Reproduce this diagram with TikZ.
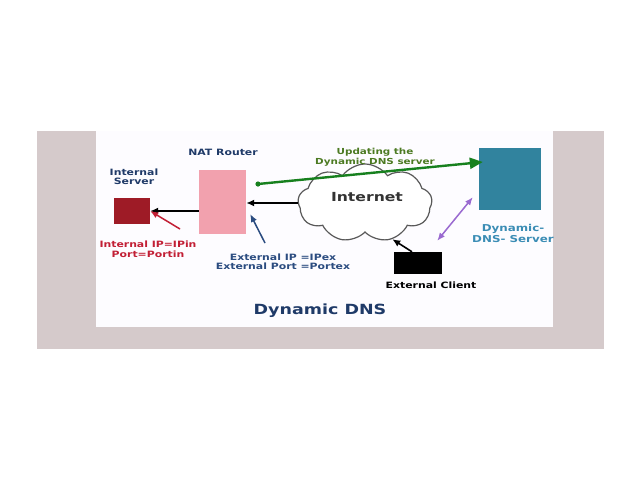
\documentclass[tikz,border=0pt]{standalone}
\usepackage{fontspec}
\setmainfont{DejaVu Sans}[FakeStretch=1.25]
\usetikzlibrary{arrows.meta, shapes.symbols, positioning}
\definecolor{band}{HTML}{D5CACB}
\definecolor{panel}{HTML}{FDFCFF}
\definecolor{navy}{HTML}{1F3A68}
\definecolor{cServer}{HTML}{9E1B26}
\definecolor{cNat}{HTML}{F2A1AE}
\definecolor{cDns}{HTML}{31839E}
\definecolor{cDnsText}{HTML}{3B8DB5}
\definecolor{cUpdate}{HTML}{4C7A22}
\definecolor{cGreen}{HTML}{17801E}
\definecolor{cRed}{HTML}{C21F35}
\definecolor{cBlue}{HTML}{2B4C80}
\definecolor{cPurple}{HTML}{9A6AD0}
\tikzset{
    box/.style={
        rectangle, inner sep=0pt, draw=none
    },
    lbl/.style={
        font=\fontsize{8.7}{9.5}\selectfont\bfseries, align=center, inner sep=0pt
    },
    arrow/.style={
        -{Latex[length=8pt,width=7pt]}, line width=1.6pt
    },
    thinarrow/.style={
        -{Latex[length=8pt,width=6.5pt]}, line width=1.5pt
    }
}
\begin{document}
\begin{tikzpicture}[x=1pt, y=-1pt]
      \useasboundingbox (0,0) rectangle (640,480);
      \fill[band] (37,131) rectangle (604,349);
      \fill[panel] (96,131) rectangle (553,327);

      \node[box, fill=cServer, minimum width=36pt, minimum height=26pt] (srv) at (132,211) {};
      \node[lbl, text=navy] (srvname) at (134,177) {Internal\\Server};
      \node[box, fill=cNat, minimum width=47pt, minimum height=64pt] (nat) at (222.5,202) {};
      \node[lbl, text=navy] (natname) at (223,152) {NAT Router};

      \node[cloud, cloud puffs=9, cloud puff arc=110, draw=black!65, fill=white, line width=1.2pt, minimum width=134pt, minimum height=78pt] (net) at (365,203) {};
      \node[font=\fontsize{12.5}{14}\selectfont\bfseries, text=black!80, inner sep=0pt] (nettext) at (367,197) {Internet};

      \node[box, fill=cDns, minimum width=62pt, minimum height=62pt] (dns) at (510,179) {};
      \node[lbl, font=\fontsize{9.5}{11}\selectfont\bfseries, text=cDnsText] (dnsname) at (513,233.5) {Dynamic-\\DNS- Server};
      \node[box, fill=black, minimum width=48pt, minimum height=22pt] (client) at (418,263) {};
      \node[lbl, text=black] (clientname) at (431,285) {External Client};

      \node[lbl, font=\fontsize{8.3}{9.5}\selectfont\bfseries, text=cUpdate] (updname) at (375,157) {Updating the\\Dynamic DNS server};
      \node[lbl, text=cRed] (inip) at (148,249.5) {Internal IP=IPin\\Port=Portin};
      \node[lbl, text=cBlue] (exip) at (283,262) {External IP =IPex\\External Port =Portex};
      \node[font=\fontsize{14}{16}\selectfont\bfseries, text=navy, inner sep=0pt] (title) at (320,311) {Dynamic DNS};

      \coordinate (redtail) at (180,229);
      \coordinate (bluetail) at (265,243);
      \coordinate (updstart) at (258,184);

      \draw[arrow] (net.west) -- (net.west -| nat.east);
      \draw[arrow] (srv.east -| nat.west) -- (srv.east);
      \draw[thinarrow, draw=cRed, fill=cRed] (redtail) -- (srv.east);
      \draw[thinarrow, draw=cBlue, fill=cBlue] (bluetail) -- ([xshift=4pt,yshift=-12pt]nat.east);
      \draw[thinarrow, {Latex[length=8pt,width=6.5pt]}-{Latex[length=8pt,width=6.5pt]}, draw=cPurple, fill=cPurple] ([xshift=-5pt,yshift=11pt]client.north east) -- ([xshift=-6pt,yshift=13pt]dns.south west);
      \draw[arrow] ([xshift=-6pt]client.north) -- (net.-53);

      \fill[cGreen] (updstart) circle (2.6pt);
      \draw[-{Triangle[length=13pt,width=11pt]}, line width=2.4pt, draw=cGreen, fill=cGreen] (updstart) -- ([xshift=4pt,yshift=17pt]dns.west);
    \end{tikzpicture}
\end{document}
